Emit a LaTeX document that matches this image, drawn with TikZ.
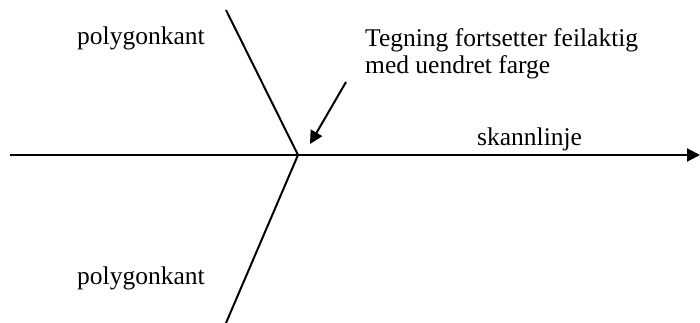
\documentclass[tikz,border=0pt]{standalone}
\usepackage{fontspec}
\setmainfont{Liberation Serif}
\usetikzlibrary{arrows.meta}
\begin{document}
\begin{tikzpicture}[x=1pt,y=-1pt,
  edge/.style={line width=2pt},
  lbl/.style={inner sep=0pt,anchor=base west,font=\fontsize{25.5}{27}\selectfont},
  tip/.style={-{Triangle[length=13pt,width=13pt]}}]
\useasboundingbox (0,0) rectangle (700,323);
\coordinate (v) at (298,155);
\coordinate (top) at (226,10);
\coordinate (bot) at (226,323);
\coordinate (left) at (10,155);
\coordinate (right) at (700,155);
\coordinate (as) at (346,82);
\coordinate (ae) at (310,144);
\draw[edge] (top) -- (v) -- (bot);
\draw[edge,tip] (left) -- (right);
\draw[edge,tip] (as) -- (ae);
\node[lbl] (p1) at (77,45) {polygonkant};
\node[lbl] (p2) at (77,284) {polygonkant};
\node[lbl] (s) at (477,145.5) {skannlinje};
\node[lbl] (t1) at (365,47) {Tegning fortsetter feilaktig};
\node[lbl] (t2) at (365,74) {med uendret farge};
\end{tikzpicture}
\end{document}
